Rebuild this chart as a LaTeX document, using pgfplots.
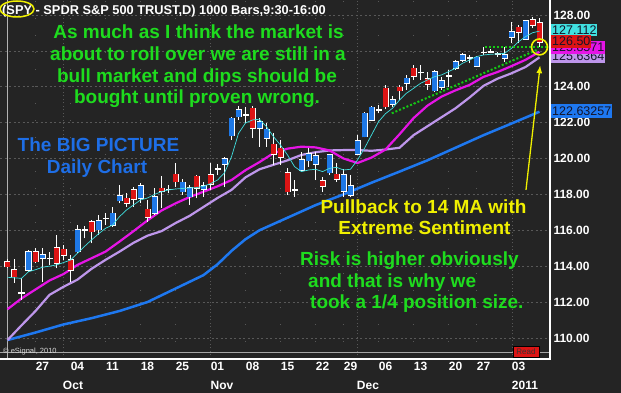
\documentclass[border=0pt]{standalone}
\usepackage{fontspec}
\setmainfont{Liberation Sans}
\usepackage{pgfplots}
\pgfplotsset{compat=1.18}
\usepackage{pgfplotstable}
\usetikzlibrary{arrows.meta}

\definecolor{bg}{RGB}{36,36,36}
\definecolor{gridgray}{RGB}{88,88,88}
\definecolor{candleblue}{RGB}{30,120,230}
\definecolor{candlered}{RGB}{220,20,20}
\definecolor{macyan}{RGB}{64,224,224}
\definecolor{mamagenta}{RGB}{230,20,230}
\definecolor{malav}{RGB}{190,150,235}
\definecolor{mablue}{RGB}{30,120,240}
\definecolor{gtext}{RGB}{30,220,30}
\definecolor{ytext}{RGB}{240,240,0}
\definecolor{btext}{RGB}{30,110,230}
\definecolor{gdot}{RGB}{20,200,20}
\definecolor{lbltext}{RGB}{20,20,40}

\pgfplotstableread{
i o h l c
0 114.25 114.40 113.90 113.97
1 113.79 114.38 113.08 113.42
2 112.49 113.32 112.11 112.49
3 113.79 114.90 113.69 114.81
4 114.81 115.00 114.16 114.25
5 114.44 115.00 113.14 114.62
6 114.44 114.81 114.07 114.44
7 115.00 115.74 113.88 114.16
8 114.94 115.18 114.34 114.62
9 114.34 114.62 113.14 113.79
10 114.81 116.29 114.72 116.01
11 116.01 116.24 115.55 116.01
12 116.48 116.57 115.27 115.92
13 116.04 116.85 115.74 116.52
14 116.66 116.94 116.29 116.66
15 116.29 117.31 116.20 116.94
16 117.65 118.52 117.50 117.91
17 117.78 118.06 117.31 117.50
18 118.25 118.43 117.31 117.73
19 117.78 118.62 117.50 118.49
20 117.17 117.69 116.48 116.72
21 116.94 118.34 116.85 117.85
22 118.34 119.03 117.23 118.19
23 118.28 118.52 118.06 118.28
24 119.12 119.73 118.43 118.71
25 118.15 118.85 117.97 118.67
26 117.87 118.52 117.41 118.37
27 119.00 119.08 117.78 118.37
28 118.28 118.71 117.87 118.48
29 119.08 119.77 118.25 118.56
30 119.42 119.69 119.08 119.42
31 119.69 120.10 118.43 119.96
32 121.27 122.33 121.03 122.24
33 122.33 122.93 122.15 122.70
34 122.43 122.85 121.96 122.43
35 122.80 122.93 121.13 121.68
36 121.68 122.24 120.66 122.05
37 121.13 121.96 120.66 121.63
38 120.79 121.40 119.64 120.25
39 120.57 121.03 119.64 120.07
40 119.21 119.45 117.97 118.15
41 118.25 118.80 117.87 118.25
42 119.36 120.38 119.27 119.92
43 119.88 120.57 119.54 120.25
44 119.69 120.38 118.80 120.14
45 118.75 118.99 118.15 118.47
46 119.21 120.25 119.08 120.20
47 119.11 119.77 118.71 118.84
48 118.20 119.40 117.87 119.10
49 117.97 119.08 117.84 118.47
50 120.25 121.31 120.20 120.98
51 121.22 122.61 121.18 122.52
52 122.15 122.90 122.10 122.85
53 122.70 122.98 122.52 122.70
54 123.91 124.10 122.75 122.89
55 123.04 123.50 122.88 123.26
56 123.97 124.10 123.26 123.78
57 124.19 124.66 123.82 124.47
58 125.03 125.21 124.38 124.60
59 124.79 125.21 124.38 124.79
60 124.42 124.84 123.82 124.15
61 123.78 124.93 123.73 124.84
62 123.97 124.56 123.82 124.34
63 124.60 124.93 124.00 124.60
64 125.03 125.49 124.93 125.40
65 125.49 125.86 125.40 125.77
66 125.59 125.77 125.31 125.59
67 125.16 125.72 125.12 125.64
68 125.92 126.23 125.77 125.92
69 125.95 126.10 125.86 125.95
70 125.83 125.95 125.65 125.83
71 125.59 126.23 125.40 125.77
72 126.76 127.63 126.42 127.04
73 127.31 127.44 126.42 127.04
74 126.66 127.72 126.61 127.68
75 127.72 127.87 127.26 127.44
76 127.55 127.82 126.23 126.50
}\candles

\pgfplotstableread{
i v
0 113.38
1 113.35
2 113.32
3 113.69
4 113.80
5 113.94
6 114.00
7 114.07
8 114.20
9 114.34
10 114.72
11 115.10
12 115.46
13 115.80
14 116.11
15 116.29
16 116.76
17 117.13
18 117.41
19 117.69
20 117.80
21 118.00
22 118.15
23 118.25
24 118.30
25 118.33
26 118.36
27 118.38
28 118.45
29 118.60
30 118.80
31 119.20
32 120.10
33 121.40
34 121.98
35 122.15
36 122.19
37 121.77
38 121.22
39 120.75
40 120.20
41 119.55
42 119.27
43 119.36
44 119.40
45 119.27
46 119.45
47 119.51
48 119.36
49 119.40
50 119.92
51 120.57
52 121.31
53 122.05
54 122.50
55 122.80
56 123.26
57 123.64
58 123.91
59 124.19
60 124.38
61 124.56
62 124.66
63 124.84
64 125.03
65 125.31
66 125.49
67 125.68
68 125.77
69 125.81
70 125.83
71 125.86
72 126.14
73 126.51
74 126.79
75 127.01
76 127.10
}\macyantab

\pgfplotstableread{
i v
0 111.60
2 112.20
4 112.70
6 113.20
8 113.56
10 114.07
12 114.44
14 114.81
16 115.37
18 115.95
20 116.55
22 117.10
24 117.50
26 117.85
28 118.15
30 118.45
32 118.80
34 119.35
36 119.80
38 120.30
40 120.55
42 120.66
44 120.62
46 120.45
48 120.00
50 119.75
52 120.05
54 120.50
56 121.35
58 122.25
60 122.95
62 123.45
64 123.80
66 124.10
68 124.55
70 124.82
72 125.15
74 125.50
76 125.95
}\mamagtab

\pgfplotstableread{
i v
0 109.88
2 110.70
4 111.50
6 112.40
8 112.85
10 113.25
12 113.85
14 114.35
16 114.81
18 115.30
20 115.70
22 115.95
24 116.40
26 116.80
28 117.30
30 117.80
32 118.25
34 118.95
36 119.40
38 119.65
40 119.90
42 120.20
44 120.35
46 120.45
48 120.47
50 120.47
52 120.43
54 120.50
56 120.60
58 121.30
60 121.80
62 122.30
64 122.80
66 123.40
68 124.05
70 124.45
72 124.75
74 125.10
76 125.64
}\malavtab

\pgfplotstableread{
i v
0 109.88
4 110.30
8 110.75
12 111.10
16 111.50
20 112.00
24 112.75
28 113.50
30 114.10
32 114.85
34 115.50
36 116.00
40 116.70
44 117.40
48 118.00
52 118.65
56 119.27
60 119.90
64 120.60
68 121.30
72 121.95
76 122.61
}\mabluetab

\newcommand{\bigfont}{\fontsize{19}{21.7}\selectfont\bfseries}
\newcommand{\tickfont}{\fontsize{12}{12}\selectfont\bfseries}
\newcommand{\lblfont}{\fontsize{12.5}{12.5}\selectfont}

\pgfplotsset{
  candlebar/.style={draw=none, mark=none, forget plot,
    error bars/y dir=plus, error bars/y explicit, error bars/error mark=none,
    error bars/error bar style={#1}}
}

\begin{document}
\begin{tikzpicture}
\fill[bg] (0,0) rectangle (621pt,393pt);
\begin{axis}[
  at={(0pt,34pt)}, anchor=south west,
  width=550pt, height=359pt, scale only axis,
  xmin=-1.0714, xmax=77.5, ymin=108.825, ymax=128.836,
  axis line style={draw=none},
  clip mode=individual,
  xtick={5,10,15,20,25,30,35,40,45,49,54,59,64,68,73},
  xticklabels={27,04,11,18,25,01,08,15,22,29,06,13,20,27,03},
  xticklabel style={font=\tickfont, text=white},
  minor xtick={3.95,8.95,13.95,18.95,23.95,33.95,38.95,43.95,47.95,52.95,57.95,62.95,66.95},
  xminorgrids=true,
  minor grid style={color=gridgray, line width=0.7pt, dash pattern=on 1pt off 16pt},
  ytick={110,112,...,128},
  yticklabel pos=right,
  yticklabel style={font=\tickfont, text=white},
  /pgf/number format/fixed, /pgf/number format/fixed zerofill,
  /pgf/number format/precision=2, /pgf/number format/assume math mode=true,
  major tick length=0pt, minor tick length=0pt,
  ymajorgrids=true,
  major grid style={color=gridgray, line width=0.6pt, dash pattern=on 2pt off 2.5pt},
  extra x ticks={7.93,28.93,49.93,72.07},
  extra x tick labels={},
  extra x tick style={xmajorgrids=true, major grid style={color=gridgray, line width=0.6pt, dash pattern=on 1pt off 2.5pt}},
]
\draw[gray!70, line width=0.6pt] (rel axis cs:0,0.0175) -- (rel axis cs:1,0.0175);
\draw[gray!60, line width=0.6pt] (rel axis cs:0.0133,0) -- (rel axis cs:0.0133,1);

\addplot[mablue, line width=2.5pt] table[x=i,y=v] {\mabluetab};
\addplot[malav, line width=2.2pt] table[x=i,y=v] {\malavtab};
\addplot[mamagenta, line width=2.2pt] table[x=i,y=v] {\mamagtab};

% wicks (low to high)
\addplot[candlebar={draw=white, line width=0.7pt}]
  table[x=i, y=l, y error expr=\thisrow{h}-\thisrow{l}] {\candles};
% body outline (white)
\addplot[candlebar={draw=white, line width=6pt}]
  table[x=i, y expr={min(\thisrow{o},\thisrow{c})-0.042}, y error expr={abs(\thisrow{c}-\thisrow{o})+0.084}] {\candles};
% up bodies
\addplot[candlebar={draw=candleblue, line width=4.2pt},
  x filter/.expression={\thisrow{c}>\thisrow{o} ? x : nan}]
  table[x=i, y=o, y error expr=\thisrow{c}-\thisrow{o}] {\candles};
% down bodies
\addplot[candlebar={draw=candlered, line width=4.2pt},
  x filter/.expression={\thisrow{c}<\thisrow{o} ? x : nan}]
  table[x=i, y=c, y error expr=\thisrow{o}-\thisrow{c}] {\candles};

\addplot[macyan, line width=0.7pt] table[x=i,y=v] {\macyantab};

\addplot[gdot, line width=2pt, dash pattern=on 2pt off 2pt] coordinates {(54.9,122.52) (75.6,126.05)};
\addplot[gdot, line width=2pt, dash pattern=on 2pt off 2pt] coordinates {(68.2,126.23) (77.6,126.23)};
\addplot[ytext, only marks, mark=o, mark size=8pt, mark options={line width=1.6pt}] coordinates {(76,126.22)};
\addplot[ytext, line width=1.3pt, -{Latex[length=8pt,width=6pt]}] coordinates {(74.07,118.25) (76.1,125.2)};

\draw[white, line width=1.2pt] (rel axis cs:0,0) -- (rel axis cs:1,0) -- (rel axis cs:1,1);
\end{axis}

% right-side value labels
\node[anchor=west, fill=malav, text=lbltext, font=\lblfont, inner xsep=1pt, inner ysep=0pt, minimum height=13pt] at (551pt,336.5pt) {125.6364};
\node[anchor=west, fill=mamagenta, text=lbltext, font=\lblfont, inner xsep=1pt, inner ysep=0pt, minimum height=13pt] at (551pt,345.5pt) {125.8571};
\node[anchor=west, fill=macyan, text=lbltext, font=\lblfont, inner xsep=1pt, inner ysep=0pt, minimum height=12pt] at (551pt,363pt) {127.112};
\node[anchor=west, fill=candlered, text=lbltext, font=\lblfont, inner xsep=1pt, inner ysep=0pt, minimum height=13pt] at (551pt,351.5pt) {126.50};
\node[anchor=west, fill=mablue, text=lbltext, font=\lblfont, inner xsep=1pt, inner ysep=0pt, minimum height=14pt] at (551pt,282pt) {122.63257};

% title
\node[anchor=base west, text=white, font=\fontsize{12.8}{12.8}\selectfont\bfseries, inner sep=0pt] at (2pt,378pt) {(SPY - SPDR S\&P 500 TRUST,D) 1000 Bars,9:30-16:00};
\draw[ytext, line width=1.5pt] (17pt,384pt) ellipse [x radius=17pt, y radius=8pt];

% month labels
\node[anchor=base, text=white, font=\tickfont, inner sep=0pt] at (73pt,3pt) {Oct};
\node[anchor=base, text=white, font=\tickfont, inner sep=0pt] at (222pt,3pt) {Nov};
\node[anchor=base, text=white, font=\tickfont, inner sep=0pt] at (368pt,3pt) {Dec};
\node[anchor=base, text=white, font=\tickfont, inner sep=0pt] at (525pt,3pt) {2011};

% annotations
\node[anchor=base, text=gtext, font=\bigfont, inner sep=0pt] at (198.5pt,354pt) {As much as I think the market is};
\node[anchor=base, text=gtext, font=\bigfont, inner sep=0pt] at (198pt,332.3pt) {about to roll over we are still in a};
\node[anchor=base, text=gtext, font=\bigfont, inner sep=0pt] at (197pt,310.7pt) {bull market and dips should be};
\node[anchor=base, text=gtext, font=\bigfont, inner sep=0pt] at (197pt,289pt) {bought until proven wrong.};

\node[anchor=base, text=btext, font=\bigfont, inner sep=0pt] at (98.5pt,241.3pt) {The BIG PICTURE};
\node[anchor=base, text=btext, font=\bigfont, inner sep=0pt] at (97pt,219pt) {Daily Chart};

\node[anchor=base, text=ytext, font=\bigfont, inner sep=0pt] at (423.5pt,179pt) {Pullback to 14 MA with};
\node[anchor=base, text=ytext, font=\bigfont, inner sep=0pt] at (424.5pt,158pt) {Extreme Sentiment};

\node[anchor=base west, text=gtext, font=\bigfont, inner sep=0pt] at (300pt,127pt) {Risk is higher obviously};
\node[anchor=base west, text=gtext, font=\bigfont, inner sep=0pt] at (308pt,105.7pt) {and that is why we};
\node[anchor=base west, text=gtext, font=\bigfont, inner sep=0pt] at (310pt,84.7pt) {took a 1/4 position size.};

\node[anchor=west, text=white!85!black, font=\fontsize{7.5}{7.5}\selectfont, inner sep=0pt] at (3pt,41pt) {\textcopyright{} eSignal, 2010};
\node[fill=candlered, draw=black, text=black!80, font=\fontsize{8}{8}\selectfont, inner sep=0.5pt, minimum width=26pt, minimum height=11pt] at (526pt,41.5pt) {Read};

\pgfresetboundingbox
\path (0,0) rectangle (621pt,393pt);
\end{tikzpicture}
\end{document}
